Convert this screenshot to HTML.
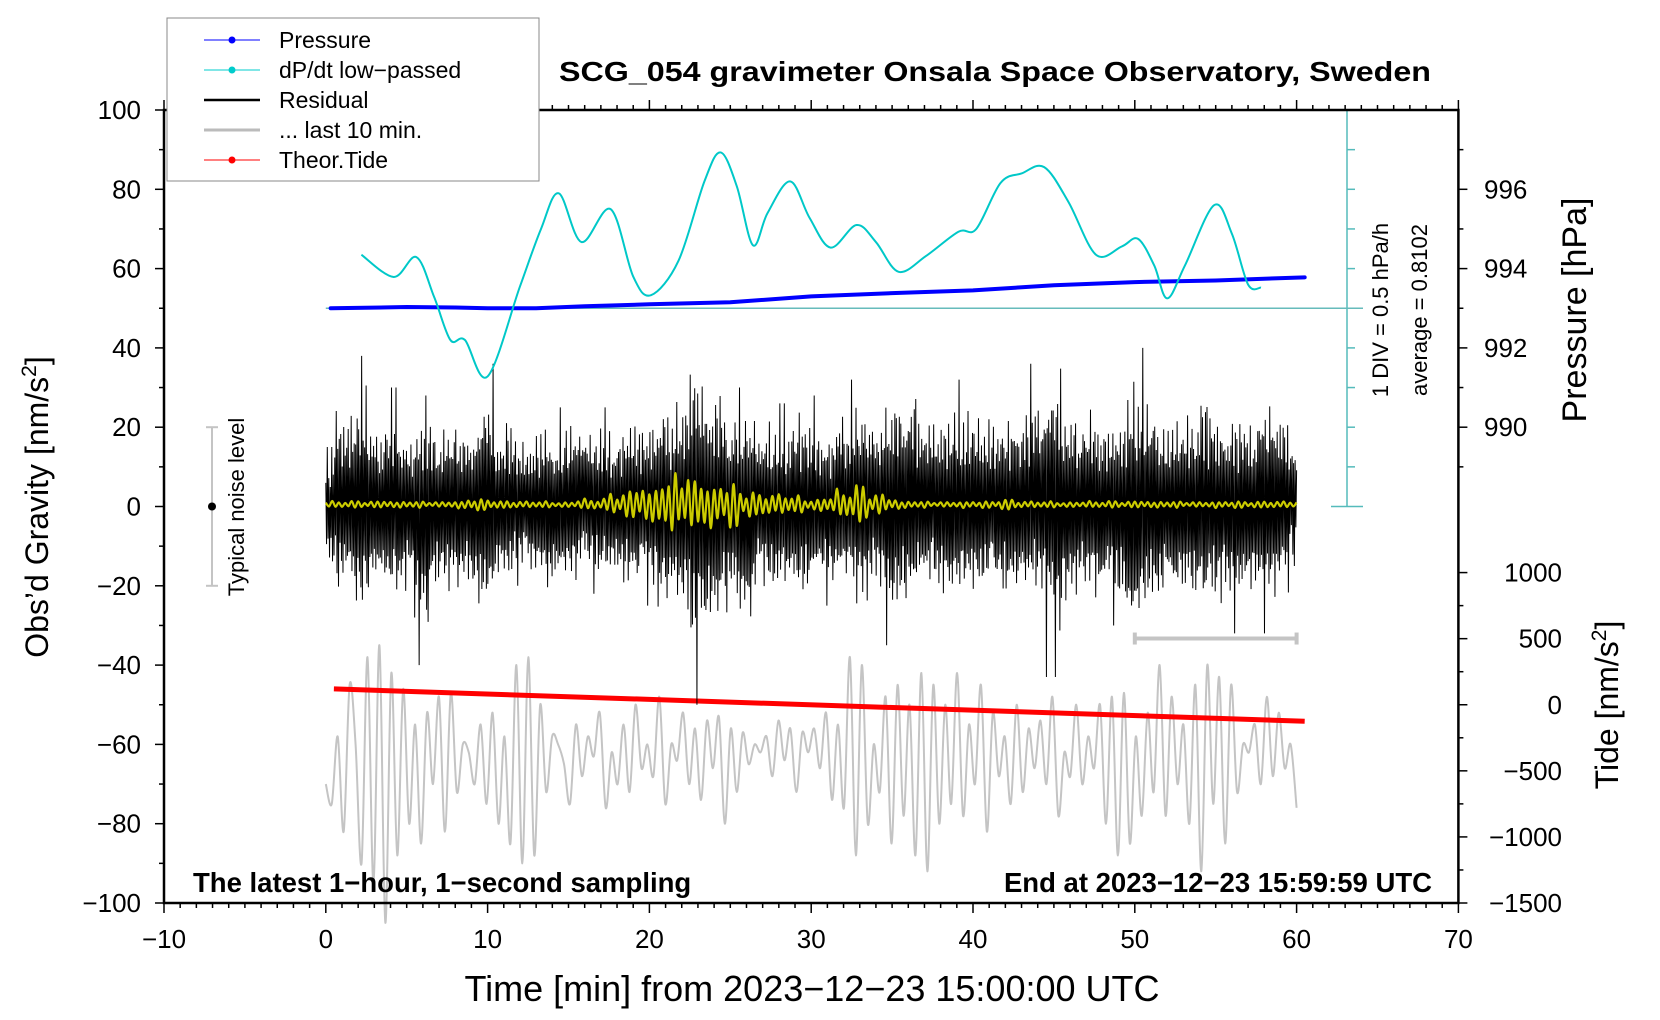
<!DOCTYPE html>
<html><head><meta charset="utf-8">
<style>
html,body{margin:0;padding:0;background:#fff;}
svg{display:block;font-family:"Liberation Sans",sans-serif;}
</style></head>
<body>
<svg id="chart" width="1660" height="1020" viewBox="0 0 1660 1020" xmlns="http://www.w3.org/2000/svg">
<g id="plot"></g>
<g id="axes"></g>
<text x="995" y="81" text-anchor="middle" font-size="28" font-weight="bold" textLength="872" lengthAdjust="spacingAndGlyphs">SCG_054 gravimeter Onsala Space Observatory, Sweden</text>
<g>
  <rect x="167" y="18" width="372" height="163" fill="#fff" stroke="#888" stroke-width="1"/>
  <g><line x1="204" y1="40" x2="260" y2="40" stroke="#00f" stroke-width="1"/><circle cx="232" cy="40" r="3.5" fill="#00f"/><text x="279" y="48" font-size="23">Pressure</text></g>
  <g><line x1="204" y1="70" x2="260" y2="70" stroke="#00cccc" stroke-width="1"/><circle cx="232" cy="70" r="3.5" fill="#00cccc"/><text x="279" y="78" font-size="23">dP/dt low−passed</text></g>
  <g><line x1="204" y1="100" x2="260" y2="100" stroke="#000" stroke-width="2.5"/><text x="279" y="108" font-size="23">Residual</text></g>
  <g><line x1="204" y1="130" x2="260" y2="130" stroke="#bbb" stroke-width="3"/><text x="279" y="138" font-size="23">... last 10 min.</text></g>
  <g><line x1="204" y1="160" x2="260" y2="160" stroke="#f00" stroke-width="1"/><circle cx="232" cy="160" r="3.5" fill="#f00"/><text x="279" y="168" font-size="23">Theor.Tide</text></g>
</g>
<text transform="translate(48,507) rotate(-90)" text-anchor="middle" font-size="32">Obs’d Gravity [nm/s<tspan font-size="21" dy="-12">2</tspan><tspan dy="12">]</tspan></text>
<text transform="translate(1586,310) rotate(-90)" text-anchor="middle" font-size="34">Pressure [hPa]</text>
<text transform="translate(1618,705) rotate(-90)" text-anchor="middle" font-size="32">Tide [nm/s<tspan font-size="21" dy="-12">2</tspan><tspan dy="12">]</tspan></text>
<text x="812" y="1001" text-anchor="middle" font-size="36">Time [min] from 2023−12−23 15:00:00 UTC</text>
<text x="193" y="892" font-size="27.5" font-weight="bold">The latest 1−hour, 1−second sampling</text>
<text x="1432" y="892" text-anchor="end" font-size="27.5" font-weight="bold">End at 2023−12−23 15:59:59 UTC</text>
<text transform="translate(244,507) rotate(-90)" text-anchor="middle" font-size="22">Typical noise level</text>
<text transform="translate(1388,310) rotate(-90)" text-anchor="middle" font-size="22">1 DIV = 0.5 hPa/h</text>
<text transform="translate(1427,310) rotate(-90)" text-anchor="middle" font-size="22">average = 0.8102</text>
</svg>
<script>
// ---- data ----
const xTicks=[-10,0,10,20,30,40,50,60,70];
const gravTicks=[100,80,60,40,20,0,-20,-40,-60,-80,-100];
const pressTicks=[990,992,994,996];
const tideTicks=[1000,500,0,-500,-1000,-1500];
const pressT=[0.3,5,8,10,13,16,20,25,30,35,40,45,50,55,60.5];
const pressV=[993.0,993.03,993.02,993.0,993.0,993.05,993.1,993.15,993.3,993.38,993.45,993.58,993.66,993.7,993.78];
const dpT=[2.2,4.2,5.6,6.7,7.7,8.6,10,12,13.3,14.4,15.8,17.6,19,20.1,21.8,23.4,24.4,25.4,26.4,27.3,28.7,29.9,31.2,32.8,34,35.4,37.1,39.1,40.2,41.7,43,44.4,45.9,47.6,49.2,50.2,51.2,52,53.1,54.9,56,57,57.8];
const dpV=[1.485,1.205,1.455,0.95,0.41,0.41,-0.05,1.085,1.81,2.26,1.645,2.06,1.21,0.975,1.41,2.41,2.775,2.35,1.605,2.01,2.41,1.95,1.575,1.86,1.645,1.27,1.47,1.775,1.81,2.39,2.51,2.59,2.15,1.485,1.59,1.685,1.35,0.935,1.35,2.11,1.75,1.11,1.07];
const dpAvg=0.8102;
const resMax=[15,30,38,28,30,25,28,27,25,28,36,26,22,24,25,25,30,25,25,27,30,33,34,47,38,32,30,28,26,30,28,25,32,33,30,36,38,30,30,32,30,28,30,32,36,44,32,30,28,29,40,33,28,30,34,31,29,30,33,34,22];
const resMin=[-20,-25,-33,-27,-30,-28,-40,-28,-27,-30,-33,-25,-20,-22,-28,-25,-20,-22,-25,-26,-25,-33,-35,-50,-38,-33,-40,-25,-27,-30,-28,-25,-25,-30,-27,-35,-33,-25,-28,-30,-29,-26,-28,-30,-27,-43,-30,-28,-30,-30,-45,-33,-30,-28,-34,-30,-32,-29,-32,-28,-15];
const jit=[0.3,-0.5,0.7,-0.2,0.45,-0.8,0.15,-0.35,0.9,-0.6,0.25,-0.4,0.55,-0.1,1.0,-0.7,0.2,-0.95,0.5,-0.3,0.65,-0.45,0.1,-0.55,0.8,-0.25,0.35,-0.65,0.4,-0.15,0.6,-0.85,0.2,-0.4,0.75,-0.5,0.05,-0.3,0.5,-0.75];
const yelAmp=[0.9,0.9,0.9,0.9,0.9,0.9,0.9,0.9,1,1.5,1.5,1,0.9,0.9,0.9,0.9,1.5,1.5,3,4,5,7,10,9,6,6,4,3,3,2.5,2,2.5,4,5,3,1.5,1,0.9,0.9,0.9,0.9,0.9,1.5,0.9,0.9,0.9,0.9,0.9,0.9,0.9,0.9,0.9,0.9,0.9,0.9,0.9,0.9,0.9,0.9,0.9,0.9];
const tideT=[0.5,60.5];
const tideV=[120,-125];
const gray=[-70,-75,-58,-82,-45,-60,-90,-38,-95,-35,-105,-42,-88,-46,-80,-55,-85,-52,-70,-48,-82,-47,-72,-60,-62,-70,-55,-75,-52,-80,-58,-85,-40,-90,-38,-88,-50,-72,-58,-60,-65,-75,-55,-68,-58,-63,-52,-76,-62,-70,-55,-72,-50,-66,-60,-68,-48,-75,-60,-64,-52,-70,-56,-74,-54,-66,-53,-80,-56,-72,-57,-65,-60,-62,-58,-68,-54,-64,-56,-72,-57,-62,-56,-66,-52,-74,-55,-76,-38,-88,-40,-80,-60,-72,-48,-85,-45,-78,-50,-88,-42,-92,-45,-80,-50,-75,-42,-78,-55,-70,-45,-82,-52,-68,-58,-75,-50,-72,-56,-66,-54,-70,-48,-78,-62,-68,-50,-70,-58,-66,-50,-80,-48,-88,-47,-85,-58,-78,-52,-72,-40,-78,-48,-70,-55,-80,-45,-92,-40,-75,-43,-85,-45,-72,-60,-62,-55,-70,-48,-68,-52,-66,-60,-76];
const grayScale=[-33.3];
// ---- scales ----
const X0=325.8, PXM=16.18;
const xs=t=>X0+t*PXM;
const ys=g=>506.5-g*3.965;
const pToG=p=>20+(p-990)*10;
const tideToG=v=>-50+v/30;
const dpToG=v=>50+(v-dpAvg)*20;
const NS='http://www.w3.org/2000/svg';
const plot=document.getElementById('plot');
const axes=document.getElementById('axes');
function mk(tag,attrs,parent){const e=document.createElementNS(NS,tag);for(const k in attrs)e.setAttribute(k,attrs[k]);parent.appendChild(e);return e;}
function catmull(pts){let d='M'+pts[0][0]+','+pts[0][1];for(let i=0;i<pts.length-1;i++){const p0=pts[Math.max(0,i-1)],p1=pts[i],p2=pts[i+1],p3=pts[Math.min(pts.length-1,i+2)];d+=' C'+(p1[0]+(p2[0]-p0[0])/6)+','+(p1[1]+(p2[1]-p0[1])/6)+' '+(p2[0]-(p3[0]-p1[0])/6)+','+(p2[1]-(p3[1]-p1[1])/6)+' '+p2[0]+','+p2[1];}return d;}

// gray last-10-min
{const pts=gray.map((v,i)=>[xs(i*60/(gray.length-1)),ys(v)]);
const e=mk('path',{d:catmull(pts),fill:'none',stroke:'#c4c4c4','stroke-width':2},plot);

}
// gray scale bar
{const y=ys(grayScale[0]);
const g=mk('g',{stroke:'#c4c4c4','stroke-width':4},plot);


mk('line',{x1:xs(50),y1:y,x2:xs(60),y2:y},g);
mk('line',{x1:xs(50),y1:y-6,x2:xs(50),y2:y+6},g);
mk('line',{x1:xs(60),y1:y-6,x2:xs(60),y2:y+6},g);}
// tide
{const e=mk('line',{x1:xs(tideT[0]),y1:ys(tideToG(tideV[0])),x2:xs(tideT[1]),y2:ys(tideToG(tideV[1])),stroke:'#f00','stroke-width':5},plot);

}
// residual
{let d='';const N=1300;for(let i=0;i<=N;i++){const t=i*60/N;const m=Math.min(60,Math.round(t));
const a=Math.abs(jit[i%40]),b=Math.abs(jit[(i*7)%39]);let mag=0.25+0.75*(0.5*a*b+0.5*(a+b)/2);if(mag>0.82)mag=1.0;
const v=(i%2===0)?mag*resMax[m]:mag*resMin[m];
d+=(i?' L':'M')+xs(t).toFixed(2)+','+ys(v).toFixed(2);}
const e=mk('path',{d:d,fill:'none',stroke:'#000','stroke-width':1},plot);

}
// yellow filtered
{const pts=[];const N=300;for(let i=0;i<=N;i++){const t=i*60/N;const m=Math.min(60,Math.round(t));const j=jit[(i*7)%39];const s=(i%2?-1:1)*(0.3+0.7*Math.abs(j));const v=0.5+s*yelAmp[m];pts.push([xs(t),ys(v)]);}
const e=mk('path',{d:catmull(pts),fill:'none',stroke:'#cccc00','stroke-width':2.2},plot);

}
// cyan scale + avg line
{const g=mk('g',{stroke:'#55bbbb','stroke-width':1.5},plot);


const sx=1347;
mk('line',{x1:sx,y1:ys(0),x2:sx,y2:ys(100)},g);
mk('line',{x1:sx-16,y1:ys(0),x2:sx+16,y2:ys(0)},g);
mk('line',{x1:sx-16,y1:ys(100),x2:sx+16,y2:ys(100)},g);
for(let k=10;k<100;k+=10)mk('line',{x1:sx,y1:ys(k),x2:sx+8,y2:ys(k)},g);
const a=mk('line',{x1:xs(0),y1:ys(dpToG(dpAvg)),x2:sx+16,y2:ys(dpToG(dpAvg)),stroke:'#66bbbb','stroke-width':1.5},plot);

}
// pressure
{const pts=pressT.map((t,i)=>xs(t)+','+ys(pToG(pressV[i])));
const e=mk('polyline',{points:pts.join(' '),fill:'none',stroke:'#0000ff','stroke-width':4,'stroke-linecap':'round'},plot);

}
// dp/dt
{const pts=dpT.map((t,i)=>[xs(t),ys(dpToG(dpV[i]))]);
const e=mk('path',{d:catmull(pts),fill:'none',stroke:'#00c8c8','stroke-width':2},plot);

}
// noise level bar
{const g=mk('g',{},plot);


mk('line',{x1:212,y1:ys(20),x2:212,y2:ys(-20),stroke:'#c4c4c4','stroke-width':2},g);
mk('line',{x1:206,y1:ys(20),x2:218,y2:ys(20),stroke:'#c4c4c4','stroke-width':2},g);
mk('line',{x1:206,y1:ys(-20),x2:218,y2:ys(-20),stroke:'#c4c4c4','stroke-width':2},g);
mk('circle',{cx:212,cy:ys(0),r:4,fill:'#000'},g);}

// ---- axes ----
const L=xs(-10),R=xs(70),T=ys(100),B=ys(-100);
{const f=mk('rect',{x:L,y:T,width:R-L,height:B-T,fill:'none',stroke:'#000','stroke-width':2.5},axes);

}
const tk=mk('g',{stroke:'#000','stroke-width':1.5},axes);


for(let t=-10;t<=70;t++){const len=t%10===0?10:5;const x=xs(t);mk('line',{x1:x,y1:B,x2:x,y2:B+len},tk);mk('line',{x1:x,y1:T,x2:x,y2:T-len},tk);}
for(let g=-100;g<=100;g+=10){const len=g%20===0?9:5;mk('line',{x1:L,y1:ys(g),x2:L-len,y2:ys(g)},tk);}
for(let p=990;p<=997;p++){const len=p%2===0?9:5;mk('line',{x1:R,y1:ys(pToG(p)),x2:R+len,y2:ys(pToG(p))},tk);}
mk('line',{x1:R,y1:ys(pToG(989)),x2:R+5,y2:ys(pToG(989))},tk);
for(let v=-1500;v<=1000;v+=250){const len=v%500===0?9:5;mk('line',{x1:R,y1:ys(tideToG(v)),x2:R+len,y2:ys(tideToG(v))},tk);}
function lab(x,y,s,anchor,name){const e=mk('text',{x:x,y:y,'text-anchor':anchor,'font-size':26},axes);e.textContent=s;

}
xTicks.forEach(t=>lab(xs(t),948,String(t).replace('-','−'),'middle','x-tick-label'));
gravTicks.forEach(g=>lab(141,ys(g)+9,String(g).replace('-','−'),'end','gravity-tick-label'));
pressTicks.forEach(p=>lab(1484,ys(pToG(p))+9,String(p),'start','pressure-tick-label'));
tideTicks.forEach(v=>lab(1562,ys(tideToG(v))+9,String(v).replace('-','−'),'end','tide-tick-label'));
</script>
</body></html>
